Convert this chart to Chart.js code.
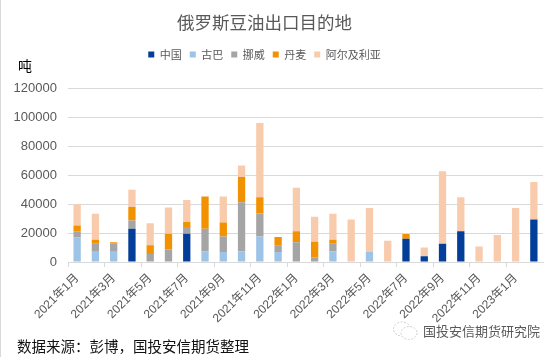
<!DOCTYPE html>
<html>
<head>
<meta charset="utf-8">
<script src="https://cdn.jsdelivr.net/npm/chart.js@4.4.1/dist/chart.umd.min.js"></script>
<style>
  html, body { margin: 0; padding: 0; background: #fff; }
  #wrap { position: relative; width: 557px; height: 357px; overflow: hidden; background: #fff; }
  #c { position: absolute; left: 0; top: 0; }
  .txt { position: absolute; white-space: nowrap; font-family: 'Noto Sans CJK SC', 'Liberation Sans', sans-serif; }
  #unit { left: 18px; top: 56px; font-size: 14px; color: #000; line-height: 18px; }
  #src { left: 17px; top: 336px; font-size: 14.5px; color: #111; line-height: 20px; }
  #wm { left: 423px; top: 322px; font-size: 13px; color: #595959; line-height: 18px; }
  #icon { position: absolute; left: 392px; top: 320px; }
  #edge { position: absolute; left: 0; top: 0; width: 1px; height: 357px; background: #d9d9d9; }
</style>
</head>
<body>
<div id="wrap">
  <canvas id="c" width="557" height="357"></canvas>
  <div id="edge"></div>
  <div class="txt" id="unit">吨</div>
  <div class="txt" id="src">数据来源：彭博，国投安信期货整理</div>
  <svg id="icon" width="28" height="22" viewBox="0 0 28 22">
    <ellipse cx="10" cy="9" rx="8.5" ry="7" fill="none" stroke="#cfcfcf" stroke-width="1" stroke-dasharray="2 1.5"/>
    <ellipse cx="17" cy="13" rx="8" ry="6.5" fill="#fff" stroke="#cfcfcf" stroke-width="1" stroke-dasharray="2 1.5"/>
  </svg>
  <div class="txt" id="wm">国投安信期货研究院</div>
</div>
<script>
const categories = [
  '2021年1月','2021年2月','2021年3月','2021年4月','2021年5月','2021年6月',
  '2021年7月','2021年8月','2021年9月','2021年10月','2021年11月','2021年12月',
  '2022年1月','2022年2月','2022年3月','2022年4月','2022年5月','2022年6月',
  '2022年7月','2022年8月','2022年9月','2022年10月','2022年11月','2022年12月',
  '2023年1月','2023年2月'
];
const seriesNames = ['中国', '古巴', '挪威', '丹麦', '阿尔及利亚'];
const china   = [0,0,0,22900,0,0,19600,0,0,0,0,0, 0,0,0,0,0,0,16000,4000,12700,21300,0,0,0,29300];
const cuba    = [17000,7000,7000,0,0,0,0,7300,6900,7300,17600,6900, 0,0,7300,0,7300,0,0,0,0,0,0,0,0,0];
const norway  = [4300,5700,5900,5800,5600,8700,4600,15600,10700,34000,16000,4400, 13600,3300,5400,0,0,0,0,0,0,0,0,0,0,0];
const denmark = [4000,2600,700,9300,6000,10900,3400,22400,9700,17400,11100,6000, 7700,10700,2600,0,0,0,3300,0,0,0,0,0,0,0];
const algeria = [14700,18000,0,12000,15100,18000,15300,0,18000,8000,51300,0, 30000,17300,18000,29300,30000,14700,0,6000,50000,23400,10700,18700,37300,26000];
const yTicks = { min: 0, max: 120000, step: 20000 };

const colors = ['#033E98', '#9DC3E6', '#A5A5A5', '#F39200', '#F8CBAD'];
const values = [china, cuba, norway, denmark, algeria];

const FONT = "'Liberation Sans', 'Noto Sans CJK SC', sans-serif";
const GRID = '#d9d9d9';
const TXT = '#595959';
const SHIFT = 28;

const layoutTweaks = {
  id: 'layoutTweaks',
  beforeInit(chart) {
    const orig = chart.legend.fit;
    chart.legend.fit = function () {
      orig.bind(chart.legend)();
      this.height += 18.4;
    };
  },
  beforeDraw(chart) {
    if (chart.titleBlock) { chart.titleBlock.right = chart.width - SHIFT; chart.titleBlock.width = chart.width - SHIFT; }
    if (chart.legend) { chart.legend.right = chart.width - SHIFT; chart.legend.width = chart.width - SHIFT; }
  }
};

new Chart(document.getElementById('c'), {
  type: 'bar',
  data: {
    labels: categories,
    datasets: seriesNames.map((name, i) => ({
      label: name,
      data: values[i],
      backgroundColor: colors[i],
      borderWidth: 0,
      barPercentage: 0.4,
      categoryPercentage: 1.0
    }))
  },
  options: {
    responsive: false,
    animation: false,
    devicePixelRatio: 1,
    layout: { padding: { left: 0, right: 14, top: 0, bottom: 0 } },
    plugins: {
      title: {
        display: true,
        text: '俄罗斯豆油出口目的地',
        color: TXT,
        font: { family: "'Noto Sans CJK SC', sans-serif", size: 17.5, weight: 'normal' },
        padding: { top: 12, bottom: 8 }
      },
      legend: {
        display: true,
        position: 'top',
        labels: {
          boxWidth: 6,
          boxHeight: 6,
          padding: 8,
          color: TXT,
          font: { family: "'Noto Sans CJK SC', sans-serif", size: 11 }
        }
      },
      tooltip: { enabled: false }
    },
    scales: {
      x: {
        stacked: true,
        afterFit(scale) { scale.height = 95; },
        grid: {
          offset: true,
          drawOnChartArea: false,
          drawTicks: true,
          tickLength: 5,
          color: (ctx) => (ctx.index % 2 === 0 ? GRID : 'rgba(0,0,0,0)')
        },
        border: { display: true, color: GRID },
        ticks: {
          autoSkip: false,
          maxRotation: 45,
          minRotation: 45,
          color: TXT,
          padding: 4,
          font: { family: FONT, size: 12 },
          callback: function (v, i) { return i % 2 === 0 ? this.getLabelForValue(v) : ''; }
        }
      },
      y: {
        stacked: true,
        min: yTicks.min,
        max: yTicks.max,
        afterFit(scale) { scale.width = 68; },
        grid: { color: GRID, drawTicks: false },
        border: { display: false },
        ticks: {
          stepSize: yTicks.step,
          padding: 11,
          color: TXT,
          font: { family: FONT, size: 13 },
          callback: (v) => String(v)
        }
      }
    }
  },
  plugins: [layoutTweaks]
});
</script>
</body>
</html>
